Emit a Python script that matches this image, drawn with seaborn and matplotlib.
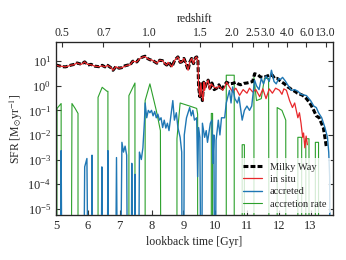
import numpy as np
import matplotlib
matplotlib.use("Agg")
import matplotlib.pyplot as plt
import seaborn as sns

# lookback time [Gyr] and SFR [Msun/yr] (0 = no signal)
mw_t = [5.0, 5.1, 5.2, 5.3, 5.46, 5.58, 5.66, 5.8, 5.9, 6.0, 6.1, 6.22, 6.35, 6.45, 6.54, 6.62,
        6.72, 6.79, 6.88, 6.98, 7.07, 7.16, 7.26, 7.32, 7.41, 7.54, 7.62, 7.73, 7.8, 7.88, 7.95,
        8.03, 8.1, 8.17, 8.26, 8.35, 8.42, 8.48, 8.55, 8.64, 8.73, 8.83, 8.9, 8.95, 9.02, 9.1,
        9.15, 9.2, 9.26, 9.32, 9.38, 9.42, 9.46, 9.48, 9.52, 9.56, 9.6, 9.64, 9.67, 9.72, 9.78,
        9.84, 9.9, 9.97, 10.05, 10.12, 10.2, 10.28, 10.36, 10.45, 10.55, 10.65, 10.72, 10.8,
        10.9, 11.0, 11.1, 11.18, 11.24, 11.35, 11.42, 11.5, 11.6, 11.7, 11.8, 11.87, 11.95,
        12.02, 12.1, 12.18, 12.28, 12.35, 12.43, 12.5, 12.59, 12.68, 12.75, 12.87, 12.95, 13.02,
        13.1, 13.18, 13.27, 13.34, 13.4, 13.45, 13.5]
mw_sfr = [7.0, 6.5, 6.0, 5.9, 6.9, 7.5, 8.5, 7.5, 9.4, 7.0, 7.5, 6.3, 6.0, 6.8, 5.9, 6.8,
          5.5, 4.3, 6.0, 5.2, 5.5, 6.5, 7.0, 6.9, 10.0, 9.4, 13.0, 15.0, 16.0, 12.8, 11.5,
          11.0, 9.5, 8.3, 11.0, 10.5, 8.0, 7.0, 9.0, 5.9, 11.0, 15.0, 9.0, 9.4, 13.0, 7.0,
          4.3, 9.0, 13.0, 8.0, 14.0, 15.0, 10.0, 0.9, 0.36, 1.2, 0.25, 1.4, 0.8, 1.2, 1.7,
          0.8, 1.3, 0.7, 0.8, 1.1, 0.66, 1.0, 1.4, 1.2, 1.25, 1.4, 1.2, 1.1,
          1.25, 1.3, 1.4, 1.5, 3.1, 2.8, 2.3, 2.2, 2.4, 2.7, 2.7, 2.0, 2.0,
          1.7, 1.4, 1.2, 0.9, 0.8, 0.66, 0.6, 0.5, 0.45, 0.41, 0.3, 0.22, 0.16,
          0.1, 0.06, 0.05, 0.03, 0.02, 0.008, 0.003]

insitu_t = [5.0, 5.1, 5.2, 5.28, 5.38, 5.46, 5.56, 5.66, 5.73, 5.8, 5.9, 5.98, 6.1, 6.22, 6.35,
            6.45, 6.54, 6.62, 6.72, 6.79, 6.88, 6.98, 7.07, 7.16, 7.26, 7.32, 7.41, 7.54, 7.62,
            7.73, 7.8, 7.88, 7.95, 8.03, 8.1, 8.17, 8.26, 8.35, 8.42, 8.48, 8.52, 8.58, 8.64,
            8.73, 8.83, 8.9, 8.95, 9.02, 9.1, 9.15, 9.2, 9.26, 9.32, 9.38, 9.42, 9.46, 9.48,
            9.52, 9.55, 9.58, 9.62, 9.65, 9.67, 9.72, 9.78, 9.82, 9.88, 9.95, 10.05, 10.12,
            10.24, 10.3, 10.36, 10.45, 10.55, 10.65, 10.77, 10.88, 11.0, 11.08, 11.18, 11.28,
            11.4, 11.5, 11.6, 11.7, 11.8, 11.9, 12.02, 12.1, 12.16, 12.24, 12.34, 12.43,
            12.5, 12.6, 12.65, 12.7, 12.75, 12.78, 12.82, 12.86, 12.9]
insitu_sfr = [7.0, 6.3, 6.2, 5.9, 6.3, 6.9, 7.2, 8.5, 7.8, 7.5, 9.4, 7.5, 7.2, 6.3, 6.0,
              6.5, 5.9, 6.8, 5.6, 4.3, 6.0, 5.2, 5.5, 6.2, 7.0, 6.9, 10.0, 9.4, 12.5,
              15.0, 15.5, 12.8, 11.5, 11.0, 9.5, 8.3, 11.0, 10.5, 8.0, 7.0, 9.0, 7.5, 5.9,
              11.0, 15.0, 9.0, 9.4, 13.0, 7.0, 4.3, 9.0, 13.0, 8.0, 14.0, 15.0, 10.0, 0.9,
              0.36, 1.3, 0.5, 0.25, 1.4, 0.66, 1.2, 1.7, 0.7, 1.2, 0.9, 0.8, 1.0,
              0.66, 0.9, 1.4, 0.9, 0.56, 0.8, 0.41, 0.7, 0.5, 0.8, 0.56, 0.7,
              0.36, 0.75, 0.3, 0.75, 0.5, 0.8, 0.66, 0.45, 0.75, 0.66, 0.25, 0.13,
              0.2, 0.05, 0.08, 0.03, 0.008, 0.012, 0.003, 0.009, 0.004]

accreted_t = [5.0, 5.12, 5.16, 5.2, 5.85, 5.9, 5.97, 6.03, 6.1, 6.13, 6.17, 6.4, 6.44, 6.48,
              6.6, 6.63, 6.67, 6.85, 6.9, 6.95, 7.0, 7.07, 7.12, 7.17, 7.22, 7.26, 7.35, 7.38,
              7.42, 7.46, 7.48, 7.52, 7.58, 7.62, 7.68, 7.73, 7.78, 7.8, 7.85, 7.9, 7.95, 8.0,
              8.05, 8.1, 8.15, 8.2, 8.25, 8.3, 8.35, 8.4, 8.45, 8.5, 8.55, 8.6, 8.67, 8.72,
              8.78, 8.83, 8.9, 8.95, 8.97, 9.0, 9.03, 9.1, 9.2, 9.25, 9.3, 9.35, 9.42, 9.45,
              9.48, 9.52, 9.57, 9.6, 9.67, 9.72, 9.76, 9.85, 9.9, 9.93, 9.96, 10.0, 10.03,
              10.1, 10.15, 10.2, 10.3, 10.35, 10.45, 10.5, 10.55, 10.62, 10.7, 10.75, 10.85,
              10.92, 11.0, 11.08, 11.15, 11.24, 11.3, 11.38, 11.45, 11.52, 11.6, 11.7, 11.77,
              11.85, 11.92, 12.0, 12.05, 12.12, 12.2, 12.3, 12.4, 12.5, 12.6, 12.7, 12.87,
              13.0, 13.1, 13.18, 13.25, 13.35, 13.45, 13.53, 13.57, 13.6, 13.62]
accreted_sfr = [0, 0, 2.3e-3, 0, 0, 5e-4, 1.1e-3, 0, 0, 1.5e-3, 0, 0, 5e-4, 0,
                0, 2.3e-3, 0, 0, 1.2e-3, 0, 0, 5e-3, 2e-3, 3.5e-3, 1.5e-3, 0, 0, 7e-4,
                0, 0, 2.5e-4, 0, 0, 2e-3, 1e-3, 3e-3, 0.04, 0.2, 0.05, 0.1, 0.08, 0.1,
                0.06, 0.09, 0.05, 0.07, 0.04, 0.05, 0.02, 0.04, 0.019, 0.03, 0.015, 0.05, 0.25, 0.04,
                0.08, 0.02, 0.008, 0.002, 0, 0, 0.01, 0.05, 0.13, 0.06, 0.1, 0.04, 0.05, 2e-4,
                0.02, 0.008, 0, 0.03, 0.008, 0.015, 0.005, 0.03, 0.04, 7e-4, 0.01, 0, 0.006,
                0.04, 0.01, 0.05, 0.05, 0.2, 0.65, 0.2, 0.9, 0.3, 0.2, 0.35, 0.04,
                0.1, 0.15, 0.1, 0.15, 1.7, 1.0, 0.7, 2.0, 1.2, 2.5, 1.5, 4.3,
                1.5, 1.2, 2.0, 1.8, 2.2, 1.6, 1.0, 0.65, 0.7, 0.6, 0.45, 0.4,
                0.25, 0.15, 0.13, 0.08, 0.05, 0.02, 0.008, 0.002, 2e-4, 0]

accretion_t = [5.0, 5.02, 5.03, 5.16, 5.16, 5.47, 5.5, 5.6, 5.69, 5.69, 6.32, 6.32, 6.45, 6.6,
               6.63, 6.63, 7.29, 7.29, 7.48, 7.48, 7.8, 7.8, 7.95, 8.15, 8.28, 8.3, 8.8, 8.8,
               8.9, 9.2, 9.42, 9.45, 9.45, 9.88, 9.88, 9.92, 9.92, 10.35, 10.35, 10.6, 10.6,
               10.85, 10.85, 10.92, 10.92, 11.22, 11.22, 11.3, 11.45, 11.55, 11.68, 11.7, 11.95,
               11.95, 12.1, 12.22, 12.22, 12.6, 12.6, 12.72, 12.72, 12.85, 12.85, 12.95, 12.95,
               13.15, 13.15, 13.25, 13.25]
accretion_rate = [0, 0, 0.12, 0.19, 0, 0, 0.19, 0.12, 0.075, 0, 0, 0.34, 0.87, 0.6,
                  0.6, 0, 0, 0.4, 1.3, 0, 0, 0.25, 1.2, 0.1, 0.015, 0, 0, 0.007,
                  0.2, 0.15, 0.12, 0.07, 0, 0, 0.075, 0.075, 0, 0, 2.7, 2.7, 0,
                  0, 0.004, 0.004, 0, 0, 2.2, 0.25, 0.3, 2.0, 2.0, 0, 0,
                  0.13, 0.1, 0.04, 0, 0, 0.008, 0.008, 0, 0, 0.007, 0.007, 0,
                  0, 0.005, 0.005, 0]

z_ticks = [0.5, 0.7, 1.0, 1.5, 2.0, 2.5, 3.0, 4.0, 6.0, 13.0]


def lookback_time(z, h=0.6774, om=0.3089):
    zz = np.linspace(0, z, 4000)
    integrand = 1.0 / ((1 + zz) * np.sqrt(om * (1 + zz) ** 3 + 1 - om))
    return 977.8 / (100 * h) * np.trapezoid(integrand, zz)


def floor(vals):
    # zero -> far below the axis so the line drops off the bottom
    return [v if v > 0 else 1e-12 for v in vals]


sns.set_style("ticks")
plt.rcParams['font.family'] = ['Liberation Serif', 'DejaVu Serif']
plt.rcParams['mathtext.fontset'] = 'stix'
plt.rcParams['xtick.direction'] = 'in'
plt.rcParams['ytick.direction'] = 'in'

fig, ax = plt.subplots(figsize=(3.46, 2.6), dpi=100)
fig.subplots_adjust(left=0.162, right=0.962, bottom=0.173, top=0.838)

sns.lineplot(x=mw_t, y=floor(mw_sfr), ax=ax, sort=False, estimator=None, color='black',
             lw=2.2, linestyle=(0, (1.6, 0.7)), label='Milky Way', zorder=3)
sns.lineplot(x=insitu_t, y=floor(insitu_sfr), ax=ax, sort=False, estimator=None,
             color='#e8282b', lw=0.9, label='in situ', zorder=4)
sns.lineplot(x=accreted_t, y=floor(accreted_sfr), ax=ax, sort=False, estimator=None,
             color='#1f77b4', lw=1.0, label='accreted', zorder=4)
sns.lineplot(x=accretion_t, y=floor(accretion_rate), ax=ax, sort=False, estimator=None,
             color='#2ca02c', lw=0.8, label='accretion rate', zorder=2)

ax.set_yscale('log')
ax.set_xlim(5, 13.7)
ax.set_ylim(5.5e-6, 60)
ax.set_xticks(range(5, 14))
ax.set_yticks([1e-5, 1e-4, 1e-3, 1e-2, 1e-1, 1, 10])
ax.set_xlabel('lookback time [Gyr]', fontsize=8.5, labelpad=3)
ax.set_ylabel(r'SFR [M$_{\odot}$yr$^{-1}$]', fontsize=8.5, labelpad=2)
ax.tick_params(which='both', labelsize=9, right=True, color='#333333')
ax.tick_params(which='major', length=3.5, width=0.8)
ax.tick_params(which='minor', length=2, width=0.6)
for s in ax.spines.values():
    s.set_linewidth(0.9)
    s.set_color('#333333')

ax2 = ax.twiny()
ax2.set_xlim(ax.get_xlim())
ax2.set_xticks([lookback_time(z) for z in z_ticks])
ax2.set_xticklabels(['%.1f' % z for z in z_ticks])
ax2.minorticks_off()
ax2.tick_params(labelsize=8.5, length=3.5, width=0.8, pad=2, color='#333333')
ax2.set_xlabel('redshift', fontsize=8.5, labelpad=4)

leg = ax.legend(loc='lower right', fontsize=7.5, frameon=True, framealpha=0.8,
                edgecolor='none', handlelength=1.8, borderaxespad=0.2, labelspacing=0.3)
leg.get_frame().set_facecolor('white')

plt.savefig('out.png', dpi=100)
